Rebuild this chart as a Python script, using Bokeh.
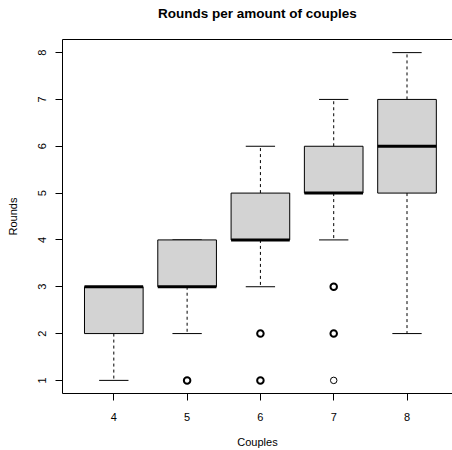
from bokeh.plotting import figure
from bokeh.models import Range1d, FixedTicker, ColumnDataSource, LinearAxis
from bokeh.embed import file_html
from bokeh.resources import INLINE

# ---- data ----
couples = [4, 5, 6, 7, 8]
whisker_low = [1, 2, 3, 4, 2]
q1 = [2, 3, 4, 5, 5]
median = [3, 3, 4, 5, 6]
q3 = [3, 4, 5, 6, 7]
whisker_high = [3, 4, 6, 7, 8]
outlier_couples = [5, 6, 6, 7, 7, 7]
outlier_rounds = [1, 2, 1, 3, 2, 1]
outlier_count = [3, 3, 3, 3, 3, 1]
y_ticks = [1, 2, 3, 4, 5, 6, 7, 8]
title_text = "Rounds per amount of couples"
x_title = "Couples"
y_title = "Rounds"

FONT = "Liberation Sans"
pos = list(range(1, len(couples) + 1))
pos_of = {c: i + 1 for i, c in enumerate(couples)}

W, H = 452, 450
LEFT, TOP, BOTTOM = 62, 39, 57
X0, XSCALE = 0.3, 73.3
Y0, Y1 = 0.72, 8.28
p = figure(width=W, height=H, output_backend="svg", toolbar_location=None,
           x_range=Range1d(X0, X0 + (W - LEFT) / XSCALE),
           y_range=Range1d(Y0, Y1),
           min_border_left=LEFT, min_border_right=0, min_border_top=TOP,
           min_border_bottom=BOTTOM)
p.outline_line_color = None
p.grid.visible = False
p.background_fill_color = "white"
p.border_fill_color = "white"

src = ColumnDataSource(dict(
    x=pos,
    left=[x - 0.4 for x in pos], right=[x + 0.4 for x in pos],
    cl=[x - 0.2 for x in pos], cr=[x + 0.2 for x in pos],
    lo=whisker_low, q1=q1, med=median, q3=q3, hi=whisker_high))

# whiskers
p.segment(x0="x", x1="x", y0="q3", y1="hi", source=src, line_color="black",
          line_width=1, line_dash="3 3")
p.segment(x0="x", x1="x", y0="q1", y1="lo", source=src, line_color="black",
          line_width=1, line_dash="3 3")
# caps
p.segment(x0="cl", x1="cr", y0="hi", y1="hi", source=src, line_color="black", line_width=1)
p.segment(x0="cl", x1="cr", y0="lo", y1="lo", source=src, line_color="black", line_width=1)
# boxes
p.quad(left="left", right="right", bottom="q1", top="q3", source=src,
       fill_color="#D3D3D3", line_color="black", line_width=1)
# medians
p.segment(x0="left", x1="right", y0="med", y1="med", source=src,
          line_color="black", line_width=3)

# outliers
osrc = ColumnDataSource(dict(
    x=[pos_of[c] for c in outlier_couples], y=outlier_rounds,
    lw=[2.0 if n > 1 else 1.0 for n in outlier_count]))
p.scatter(x="x", y="y", source=osrc, marker="circle", size=6.5,
          fill_color=None, line_color="black", line_width="lw")

# axes
for ax in (p.xaxis[0], p.yaxis[0]):
    ax.axis_line_color = "black"
    ax.major_tick_line_color = "black"
    ax.major_tick_out = 7
    ax.major_tick_in = 0
    ax.minor_tick_line_color = None
    ax.major_label_text_font = FONT
    ax.major_label_text_font_size = "11px"
    ax.major_label_text_color = "black"
    ax.axis_label_text_font = FONT
    ax.axis_label_text_font_size = "11px"
    ax.axis_label_text_font_style = "normal"
    ax.axis_label_text_color = "black"

p.xaxis.ticker = FixedTicker(ticks=pos)
p.xaxis.major_label_overrides = {i: str(c) for i, c in zip(pos, couples)}
p.xaxis.axis_label = x_title
p.xaxis.major_label_standoff = 12
p.xaxis.axis_label_standoff = 12

p.yaxis.ticker = FixedTicker(ticks=y_ticks)
p.yaxis.axis_label = y_title
p.yaxis.major_label_orientation = "vertical"
p.yaxis.major_label_standoff = 9
p.yaxis.axis_label_standoff = 17

# top edge of the plot box, carrying the title as its label
top = LinearAxis(ticker=FixedTicker(ticks=[]), axis_line_color="black",
                 major_tick_line_color=None, minor_tick_line_color=None,
                 major_tick_out=0, major_tick_in=0,
                 major_label_text_font_size="0px", major_label_standoff=0,
                 axis_label=title_text, axis_label_text_font=FONT,
                 axis_label_text_font_size="13.5px",
                 axis_label_text_font_style="bold",
                 axis_label_text_color="black", axis_label_standoff=19)
p.add_layout(top, "above")

open("out.html", "w").write(file_html(p, INLINE))
